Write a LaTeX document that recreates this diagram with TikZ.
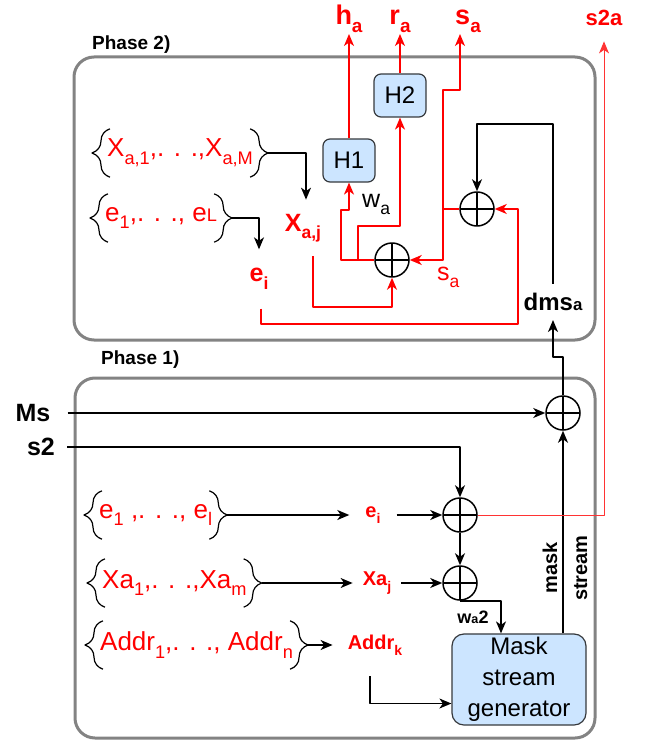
\documentclass[tikz,border=0pt]{standalone}
\usepackage{fontspec}
\setmainfont{Liberation Sans}
\usetikzlibrary{arrows.meta,decorations.pathreplacing}
\definecolor{boxgray}{HTML}{838383}
\definecolor{hfill}{HTML}{CCE5FF}
\definecolor{hdraw}{HTML}{36393D}
\definecolor{wred}{HTML}{FF0000}
\definecolor{lred}{HTML}{FF3333}
\newcommand{\fsz}[1]{\fontsize{#1}{#1}\selectfont}
\newcommand{\sbs}[1]{\raisebox{-0.3em}{\scalebox{0.7}{#1}}}
\tikzset{
  bline/.style={line width=1.5pt, black},
  rline/.style={line width=1.5pt, wred},
  rthin/.style={line width=1pt, lred},
  xorc/.style={circle, draw, line width=1.5pt, minimum size=34pt, inner sep=0pt,
    path picture={\draw[line width=1.5pt] (path picture bounding box.north) -- (path picture bounding box.south)
      (path picture bounding box.west) -- (path picture bounding box.east);}},
  hbox/.style={rectangle, rounded corners=7pt, draw=hdraw, fill=hfill, line width=1.2pt,
    font=\fsz{24}, minimum width=52pt, minimum height=43pt},
  phase/.style={draw=boxgray, line width=3pt, rounded corners=20pt},
  phlbl/.style={font=\bfseries\fsz{19}, anchor=west, inner sep=0pt},
  lst/.style={text=wred, font=\fsz{26}, inner sep=0pt, minimum height=48pt, anchor=west},
  brc/.style={decorate, decoration={brace, amplitude=18pt}, line width=1.2pt},
  olbl/.style={text=wred, font=\bfseries\fsz{27}, inner sep=1pt},
  rlbl/.style={text=wred, inner xsep=0pt},
  plbl/.style={text=wred, font=\bfseries\fsz{20}, inner ysep=1pt},
  blbl/.style={font=\bfseries\fsz{25}, inner sep=1pt},
}
\begin{document}
\begin{tikzpicture}[x=1pt, y=-1pt, >={Stealth[length=12pt,width=10pt,inset=3.5pt]}, line join=round]
  \useasboundingbox (0,0) rectangle (650,741);
  % the two phases
  \draw[phase] (74,57) rectangle (595,340);
  \draw[phase] (75,378) rectangle (595,738);
  \node[phlbl] (ph2) at (92,45) {Phase 2)};
  \node[phlbl] (ph1) at (101,360) {Phase 1)};

  % Phase 2
  \node[hbox] (H1) at (349,160.5) {H1};
  \node[hbox] (H2) at (400,95.5) {H2};
  \node[xorc] (A1) at (392,260) {};
  \node[xorc] (A2) at (477,209) {};
  \node[olbl, anchor=south] (ha) at (349,34) {h\sbs{a}};
  \node[olbl, anchor=south] (ra) at (400,34) {r\sbs{a}};
  \node[olbl, anchor=south] (sa) at (468,34) {s\sbs{a}};
  \node[olbl, font=\bfseries\fsz{22}, anchor=base] (s2a) at (604,26) {s2a};
  \node[lst] (xl) at (107,153) {X\sbs{a,1},. . .,X\sbs{a,M}};
  \node[lst] (el2) at (105,218) {e\sbs{1},. . ., e\scalebox{0.7}{L}};
  \node[rlbl, font=\bfseries\fsz{25}, inner ysep=14pt] (xaj) at (303,228) {X\sbs{a,j}};
  \node[rlbl, font=\bfseries\fsz{25}, inner ysep=19pt] (ei2) at (259,279) {e\sbs{i}};
  \node[font=\fsz{25}, anchor=base west, inner sep=0pt] (wa) at (362,207) {w\sbs{a}};
  \node[rlbl, font=\fsz{25}, anchor=base west, inner sep=0pt] (sal) at (437,280) {s\sbs{a}};
  \node[font=\bfseries\fsz{24}, inner ysep=9pt] (dms) at (553,302) {dms\scalebox{0.7}{a}};

  % Phase 1
  \node[xorc] (A3) at (563,413) {};
  \node[xorc] (A4) at (460,515) {};
  \node[xorc] (A5) at (460,583) {};
  \node[blbl] (Ms) at (33,413) {Ms};
  \node[blbl] (s2) at (41,447) {s2};
  \node[lst] (el1) at (99,515) {e\sbs{1} ,. . ., e\sbs{l}};
  \node[lst] (xa1) at (102,583) {Xa\sbs{1},. . .,Xa\sbs{m}};
  \node[lst] (ad1) at (100,645) {Addr\sbs{1},. . ., Addr\sbs{n}};
  \node[plbl, inner xsep=16pt] (ei1) at (373,515) {e\sbs{i}};
  \node[plbl, inner xsep=10pt] (xaj1) at (377,583) {Xa\sbs{j}};
  \node[plbl, inner xsep=15pt, inner ysep=21pt] (adk) at (375,645) {Addr\sbs{k}};
  \node[hbox, font=\fontsize{24}{31}\selectfont, align=center, minimum width=134pt,
    minimum height=91pt, rounded corners=12pt] (mask) at (519,679.5) {Mask\\stream\\generator};
  \node[font=\bfseries\fsz{18}] (wa2) at (473,617) {w\scalebox{0.7}{a}2};
  \node[rotate=90, font=\bfseries\fontsize{20}{30}\selectfont, align=center] (msl) at (565,568) {mask\\stream};

  % braces round the lists
  \foreach \n in {xl,el2,el1,xa1,ad1} {
    \draw[brc] ([xshift=3pt]\n.south west) -- ([xshift=3pt]\n.north west);
    \draw[brc] ([xshift=-3pt]\n.north east) -- ([xshift=-3pt]\n.south east);
  }

  % wires of phase 2
  \draw[bline,->] ([xshift=15pt]xl.east) -| ([xshift=3pt]xaj.north);
  \draw[bline,->] ([xshift=15pt]el2.east) -| (ei2.north);
  \draw[bline,->] (dms.north) |- (477,124) -- (A2.north);
  \draw[rline,->] (A1.west) -- (341,260) |- (349,210) -- (H1.south);
  \coordinate (j1) at (358,260);
  \draw[rline,->] (j1) |- (400,226) -- (H2.south);
  \draw[rline] (A2.west) -- (443,209) coordinate (j2);
  \draw[rline,->] (j2) |- (A1.east);
  \draw[rline,->] (j2) -- (443,90) -| ([xshift=-8pt]sa.south);
  \draw[rline,->] (H1.north) -- (ha.south);
  \draw[rline,->] (H2.north) -- (ra.south);
  \draw[rline,->] ([xshift=10pt]xaj.south) |- (392,307) -- (A1.south);
  \draw[rline,->] ([xshift=2pt]ei2.south) |- (518,324) |- (A2.east);

  % wires of phase 1
  \draw[bline,->] ([xshift=16pt]Ms.east) -- (A3.west);
  \draw[bline,->] ([xshift=11pt]s2.east) -| (A4.north);
  \draw[bline,->] ([xshift=15pt]el1.east) -- (ei1.west);
  \draw[bline,->] (ei1.east) -- (A4.west);
  \draw[bline,->] ([xshift=15pt]xa1.east) -- (xaj1.west);
  \draw[bline,->] (xaj1.east) -- (A5.west);
  \draw[bline,->] ([xshift=15pt]ad1.east) -- (adk.west);
  \draw[bline,->] (A4.south) -- (A5.north);
  \draw[bline,->] (A5.south) -| ([xshift=-18pt]mask.north);
  \draw[bline,->] ([xshift=-5pt]adk.south) |- ([yshift=-24pt]mask.west);
  \draw[bline,->] ([xshift=44pt]mask.north) -- (A3.south);
  \draw[bline,->] (A3.north) -- (563,357) -| (dms.south);
  \draw[rthin,->] (A4.east) -| ([yshift=-14pt]s2a.south);
\end{tikzpicture}
\end{document}
